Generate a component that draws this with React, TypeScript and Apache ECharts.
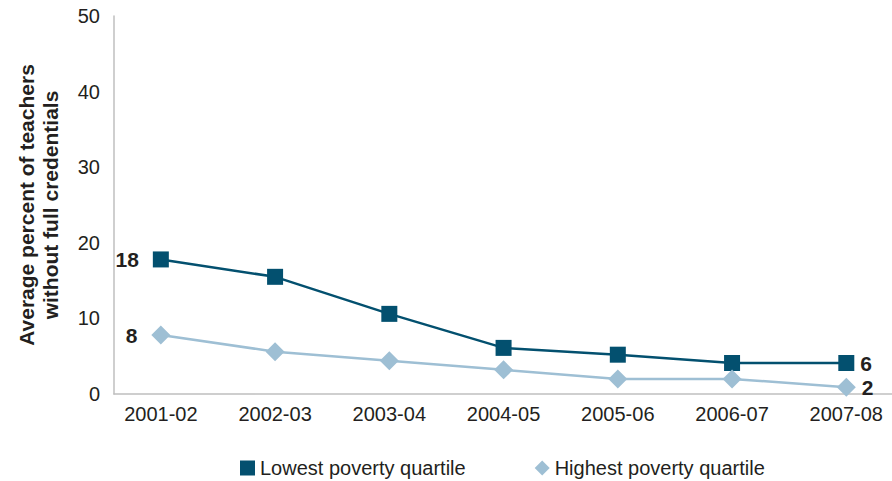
import React, { useEffect, useRef } from "react";
import * as echarts from "echarts";

const categories = ["2001-02", "2002-03", "2003-04", "2004-05", "2005-06", "2006-07", "2007-08"];
const lowest = [17.8, 15.5, 10.6, 6.1, 5.2, 4.1, 4.1];
const highest = [7.8, 5.6, 4.4, 3.2, 2.0, 2.0, 0.9];
const lowestLabels = ["18", "", "", "", "", "", "6"];
const highestLabels = ["8", "", "", "", "", "", "2"];
const yTicks = [0, 10, 20, 30, 40, 50];

const FONT = "Liberation Sans, Arial, sans-serif";
const DARK = "#03506F";
const LIGHT = "#9EBFD4";
const TEXT = "#231F20";

export default function App() {
  const ref = useRef<HTMLDivElement>(null);
  useEffect(() => {
    if (!ref.current) return;
    const chart = echarts.init(ref.current, null, { renderer: "svg" });
    const mk = (vals: number[], labels: string[]) =>
      vals.map((v, i) => {
        const item: any = { value: [i, v] };
        if (labels[i]) {
          item.label = {
            show: true,
            position: i === 0 ? "left" : "right",
            distance: i === 0 ? 14 : 6,
            formatter: labels[i],
            fontSize: 21,
            fontWeight: "bold",
            color: TEXT,
            fontFamily: FONT,
          };
        }
        return item;
      });
    chart.setOption({
      animation: false,
      backgroundColor: "#fff",
      grid: { left: 114, right: 0, top: 16, bottom: 87 },
      legend: {
        top: 453,
        left: 235,
        itemGap: 69,
        itemWidth: 15,
        itemHeight: 15,
        textStyle: { fontSize: 20, color: TEXT, fontFamily: FONT },
        data: [
          { name: "Lowest poverty quartile", icon: "rect" },
          { name: "Highest poverty quartile", icon: "diamond" },
        ],
      },
      xAxis: {
        type: "value",
        min: -0.41,
        max: 6.4,
        splitLine: { show: false },
        axisLine: { show: true, onZero: false, lineStyle: { color: "#BFBFBF", width: 1.5 } },
        axisTick: { show: false },
        axisLabel: {
          customValues: categories.map((_, i) => i),
          formatter: (v: number) => categories[Math.round(v)] ?? "",
          fontSize: 20,
          color: TEXT,
          fontFamily: FONT,
          margin: 10,
        },
      },
      yAxis: {
        type: "value",
        min: 0,
        max: 50,
        interval: 10,
        name: "Average percent of teachers\nwithout full credentials",
        nameLocation: "middle",
        nameGap: 52,
        nameTextStyle: { fontSize: 21, fontWeight: "bold", color: TEXT, fontFamily: FONT, lineHeight: 24 },
        splitLine: { show: false },
        axisLine: { show: true, onZero: false, lineStyle: { color: "#BFBFBF", width: 1.5 } },
        axisTick: { show: false },
        axisLabel: {
          fontSize: 20,
          color: TEXT,
          fontFamily: FONT,
          margin: 14,
          customValues: yTicks,
        },
      },
      series: [
        {
          name: "Lowest poverty quartile",
          type: "line",
          symbol: "rect",
          symbolSize: 16,
          itemStyle: { color: DARK },
          lineStyle: { color: DARK, width: 2.5 },
          data: mk(lowest, lowestLabels),
        },
        {
          name: "Highest poverty quartile",
          type: "line",
          symbol: "diamond",
          symbolSize: 19,
          itemStyle: { color: LIGHT },
          lineStyle: { color: LIGHT, width: 2.5 },
          data: mk(highest, highestLabels),
        },
      ],
    });
    return () => chart.dispose();
  }, []);
  return <div ref={ref} style={{ position: "absolute", left: 0, top: 0, width: 892, height: 481 }} />;
}
